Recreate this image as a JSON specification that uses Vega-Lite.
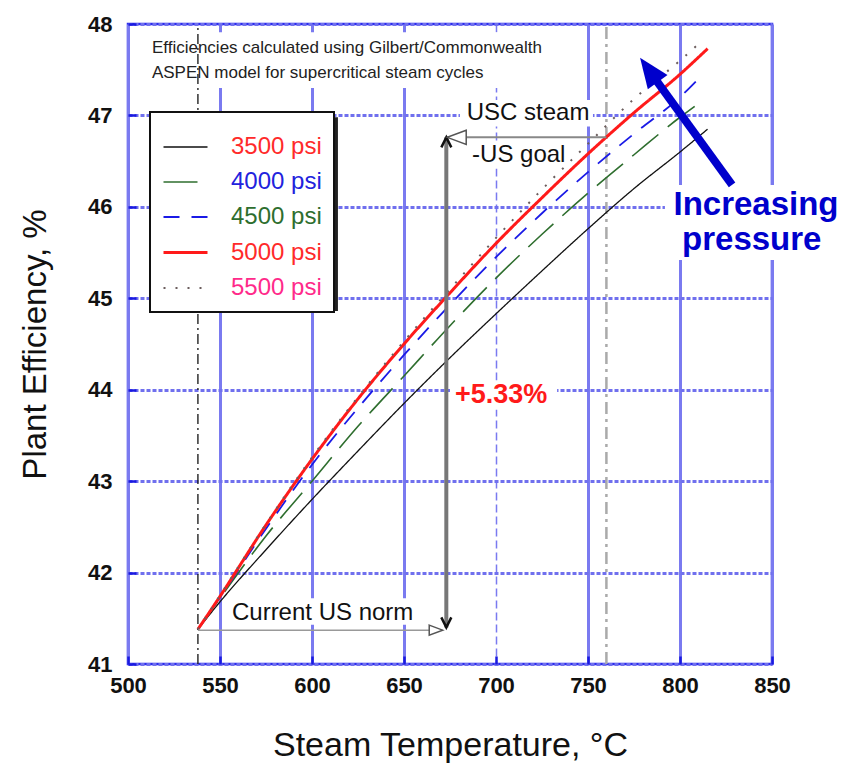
{
  "$schema": "https://vega.github.io/schema/vega-lite/v6.json",
  "width": 644,
  "height": 640,
  "autosize": "none",
  "padding": {"left": 128, "top": 24, "right": 76, "bottom": 113},
  "background": "white",
  "config": {
    "font": "Liberation Sans",
    "view": {"stroke": "#2a2aee", "strokeWidth": 2.5},
    "axis": {"domain": false, "labelFlush": false, "labelOverlap": false},
    "legend": {"strokeWidth": 2}
  },
  "datasets": {
    "curves": [
      {"series": "3500 psi", "t": 538, "eff": 41.38}, {"series": "3500 psi", "t": 550, "eff": 41.68}, {"series": "3500 psi", "t": 575, "eff": 42.25}, {"series": "3500 psi", "t": 600, "eff": 42.8}, {"series": "3500 psi", "t": 625, "eff": 43.33}, {"series": "3500 psi", "t": 650, "eff": 43.85}, {"series": "3500 psi", "t": 675, "eff": 44.35}, {"series": "3500 psi", "t": 700, "eff": 44.83}, {"series": "3500 psi", "t": 725, "eff": 45.3}, {"series": "3500 psi", "t": 750, "eff": 45.76}, {"series": "3500 psi", "t": 775, "eff": 46.2}, {"series": "3500 psi", "t": 800, "eff": 46.6}, {"series": "3500 psi", "t": 815, "eff": 46.85},
      {"series": "4000 psi", "t": 538, "eff": 41.38}, {"series": "4000 psi", "t": 550, "eff": 41.72}, {"series": "4000 psi", "t": 575, "eff": 42.4}, {"series": "4000 psi", "t": 600, "eff": 43.0}, {"series": "4000 psi", "t": 625, "eff": 43.6}, {"series": "4000 psi", "t": 650, "eff": 44.15}, {"series": "4000 psi", "t": 675, "eff": 44.7}, {"series": "4000 psi", "t": 700, "eff": 45.22}, {"series": "4000 psi", "t": 725, "eff": 45.7}, {"series": "4000 psi", "t": 750, "eff": 46.15}, {"series": "4000 psi", "t": 775, "eff": 46.57}, {"series": "4000 psi", "t": 800, "eff": 46.98}, {"series": "4000 psi", "t": 808, "eff": 47.1},
      {"series": "4500 psi", "t": 538, "eff": 41.38}, {"series": "4500 psi", "t": 550, "eff": 41.73}, {"series": "4500 psi", "t": 575, "eff": 42.48}, {"series": "4500 psi", "t": 600, "eff": 43.18}, {"series": "4500 psi", "t": 625, "eff": 43.8}, {"series": "4500 psi", "t": 650, "eff": 44.38}, {"series": "4500 psi", "t": 675, "eff": 44.93}, {"series": "4500 psi", "t": 700, "eff": 45.45}, {"series": "4500 psi", "t": 725, "eff": 45.93}, {"series": "4500 psi", "t": 750, "eff": 46.38}, {"series": "4500 psi", "t": 775, "eff": 46.8}, {"series": "4500 psi", "t": 800, "eff": 47.2}, {"series": "4500 psi", "t": 810, "eff": 47.4},
      {"series": "5000 psi", "t": 538, "eff": 41.38}, {"series": "5000 psi", "t": 550, "eff": 41.74}, {"series": "5000 psi", "t": 575, "eff": 42.52}, {"series": "5000 psi", "t": 600, "eff": 43.24}, {"series": "5000 psi", "t": 625, "eff": 43.9}, {"series": "5000 psi", "t": 650, "eff": 44.5}, {"series": "5000 psi", "t": 675, "eff": 45.06}, {"series": "5000 psi", "t": 700, "eff": 45.6}, {"series": "5000 psi", "t": 725, "eff": 46.1}, {"series": "5000 psi", "t": 750, "eff": 46.58}, {"series": "5000 psi", "t": 775, "eff": 47.03}, {"series": "5000 psi", "t": 800, "eff": 47.45}, {"series": "5000 psi", "t": 815, "eff": 47.73},
      {"series": "5500 psi", "t": 538, "eff": 41.38}, {"series": "5500 psi", "t": 550, "eff": 41.75}, {"series": "5500 psi", "t": 575, "eff": 42.53}, {"series": "5500 psi", "t": 600, "eff": 43.26}, {"series": "5500 psi", "t": 625, "eff": 43.92}, {"series": "5500 psi", "t": 650, "eff": 44.53}, {"series": "5500 psi", "t": 675, "eff": 45.1}, {"series": "5500 psi", "t": 700, "eff": 45.66}, {"series": "5500 psi", "t": 725, "eff": 46.19}, {"series": "5500 psi", "t": 750, "eff": 46.69}, {"series": "5500 psi", "t": 775, "eff": 47.18}, {"series": "5500 psi", "t": 800, "eff": 47.6}, {"series": "5500 psi", "t": 810, "eff": 47.78}
    ],
    "boxes": [
      {"x": 509.2, "x2": 732.1, "y": 47.91, "y2": 47.3},
      {"x": 680.4, "x2": 752.7, "y": 47.17, "y2": 46.88},
      {"x": 683.7, "x2": 740.2, "y": 46.71, "y2": 46.42},
      {"x": 552.7, "x2": 661.4, "y": 41.72, "y2": 41.43},
      {"x": 675.0, "x2": 733.2, "y": 44.1, "y2": 43.78},
      {"x": 791.8, "x2": 891.0, "y": 46.24, "y2": 45.42}
    ],
    "shadow": [
      {"x": 514.7, "x2": 614.1, "y": 46.98, "y2": 44.86}
    ],
    "segments": [
      {"id": "norm538", "x": 538, "x2": 538, "y": 41, "y2": 48},
      {"id": "usc760", "x": 760, "x2": 760, "y": 41, "y2": 48},
      {"id": "goal", "x": 760, "x2": 673, "y": 46.76, "y2": 46.76},
      {"id": "norm", "x": 538, "x2": 671, "y": 41.37, "y2": 41.37},
      {"id": "gain", "x": 673, "x2": 673, "y": 41.4, "y2": 46.76},
      {"id": "press", "x": 828.3, "x2": 786.5, "y": 46.24, "y2": 47.4}
    ],
    "heads": [
      {"id": "up", "x": 673, "y": 46.76},
      {"id": "down", "x": 673, "y": 41.4},
      {"id": "left", "x": 673.5, "y": 46.76},
      {"id": "right", "x": 671, "y": 41.37},
      {"id": "blue", "x": 778.3, "y": 47.63}
    ],
    "notes": [
      {"id": "note", "text": "Efficiencies calculated using Gilbert/Commonwealth", "x": 513, "y": 47.74},
      {"id": "note", "text": "ASPEN model for supercritical steam cycles", "x": 513, "y": 47.46},
      {"id": "usc", "text": "USC steam", "x": 717.4, "y": 47.03},
      {"id": "goal", "text": "-US goal", "x": 687, "y": 46.57},
      {"id": "norm", "text": "Current US norm", "x": 556.5, "y": 41.56},
      {"id": "pct", "text": "+5.33%", "x": 677.7, "y": 43.94},
      {"id": "inc", "text": "Increasing", "x": 841.3, "y": 46.02},
      {"id": "inc", "text": "pressure", "x": 839, "y": 45.64}
    ]
  },
  "layer": [
    {
      "data": {"name": "boxes"},
      "mark": {"type": "rect", "fill": "white"},
      "encoding": {
        "x": {"field": "x", "type": "quantitative", "scale": {"domain": [500, 850], "nice": false},
          "axis": {"values": [500, 550, 600, 650, 700, 750, 800, 850], "title": "Steam Temperature, °C",
            "titleFontSize": 34, "titleFontWeight": "normal", "titleColor": "#111", "titlePadding": 32,
            "labelFontSize": 22, "labelFontWeight": "bold", "labelColor": "#111", "labelPadding": 19,
            "tickColor": "#1a1ae0", "tickWidth": 2.5, "tickSize": -8,
            "gridColor": "#7a7af0",
            "gridWidth": {"condition": {"test": "datum.value === 700", "value": 1.5}, "value": 3},
            "gridDash": {"condition": {"test": "datum.value === 700", "value": [8, 4]}, "value": []}}},
        "x2": {"field": "x2"},
        "y": {"field": "y", "type": "quantitative", "scale": {"domain": [41, 48], "nice": false},
          "axis": {"values": [41, 42, 43, 44, 45, 46, 47, 48], "format": "d", "title": "Plant Efficiency, %",
            "titleFontSize": 33, "titleFontWeight": "normal", "titleColor": "#111", "titlePadding": 35,
            "labelFontSize": 22, "labelFontWeight": "bold", "labelColor": "#111", "labelPadding": 24,
            "tickColor": "#1a1ae0", "tickWidth": 2.5, "tickSize": -8,
            "gridColor": "#7070ee", "gridWidth": 3, "gridDash": [4, 2]}},
        "y2": {"field": "y2"}
      }
    },
    {
      "data": {"name": "shadow"},
      "mark": {"type": "rect", "fill": "#222222"},
      "encoding": {"x": {"field": "x", "type": "quantitative"}, "x2": {"field": "x2"}, "y": {"field": "y", "type": "quantitative"}, "y2": {"field": "y2"}}
    },
    {
      "data": {"name": "segments"},
      "transform": [{"filter": "datum.id === 'norm538'"}],
      "mark": {"type": "rule", "color": "#111", "strokeWidth": 1.3, "strokeDash": [10, 4, 2, 4]},
      "encoding": {"x": {"field": "x", "type": "quantitative"}, "x2": {"field": "x2"}, "y": {"field": "y", "type": "quantitative"}, "y2": {"field": "y2"}}
    },
    {
      "data": {"name": "segments"},
      "transform": [{"filter": "datum.id === 'usc760'"}],
      "mark": {"type": "rule", "color": "#aaaaaa", "strokeWidth": 2.5, "strokeDash": [12, 5, 3, 5]},
      "encoding": {"x": {"field": "x", "type": "quantitative"}, "x2": {"field": "x2"}, "y": {"field": "y", "type": "quantitative"}, "y2": {"field": "y2"}}
    },
    {
      "data": {"name": "curves"},
      "mark": {"type": "line", "interpolate": "monotone"},
      "encoding": {
        "x": {"field": "t", "type": "quantitative"},
        "y": {"field": "eff", "type": "quantitative"},
        "color": {"field": "series", "type": "nominal",
          "scale": {"domain": ["3500 psi", "4000 psi", "4500 psi", "5000 psi", "5500 psi"], "range": ["#111111", "#2e6e2e", "#1a1ae6", "#ff1a1a", "#6b5d5d"]},
          "legend": {"orient": "none", "legendX": 22, "legendY": 88, "title": null, "fillColor": "white", "strokeColor": "#111",
            "padding": 12, "symbolType": "stroke", "symbolSize": 1936, "labelFontSize": 24, "labelOffset": 22, "rowPadding": 0,
            "labelColor": {"expr": "datum.label === '4000 psi' ? '#2222dd' : datum.label === '4500 psi' ? '#2e6e2e' : datum.label === '5500 psi' ? '#ff2a8a' : '#ff2a2a'"}}},
        "strokeDash": {"field": "series", "type": "nominal",
          "scale": {"domain": ["3500 psi", "4000 psi", "4500 psi", "5000 psi", "5500 psi"], "range": [[1, 0], [34, 12], [16, 12], [1, 0], [2, 10]]},
          "legend": {"orient": "none", "legendX": 22, "legendY": 88, "title": null, "fillColor": "white", "strokeColor": "#111",
            "padding": 12, "symbolType": "stroke", "symbolSize": 1936, "labelFontSize": 24, "labelOffset": 22, "rowPadding": 0,
            "labelColor": {"expr": "datum.label === '4000 psi' ? '#2222dd' : datum.label === '4500 psi' ? '#2e6e2e' : datum.label === '5500 psi' ? '#ff2a8a' : '#ff2a2a'"}}},
        "strokeWidth": {"field": "series", "type": "nominal",
          "scale": {"type": "ordinal", "domain": ["3500 psi", "4000 psi", "4500 psi", "5000 psi", "5500 psi"], "range": [1.3, 1.6, 1.8, 3, 2]},
          "legend": {"orient": "none", "legendX": 22, "legendY": 88, "title": null, "fillColor": "white", "strokeColor": "#111",
            "padding": 12, "symbolType": "stroke", "symbolSize": 1936, "labelFontSize": 24, "labelOffset": 22, "rowPadding": 0,
            "labelColor": {"expr": "datum.label === '4000 psi' ? '#2222dd' : datum.label === '4500 psi' ? '#2e6e2e' : datum.label === '5500 psi' ? '#ff2a8a' : '#ff2a2a'"}}}
      }
    },
    {
      "data": {"name": "segments"},
      "transform": [{"filter": "datum.id === 'goal'"}],
      "mark": {"type": "rule", "color": "#888888", "strokeWidth": 2},
      "encoding": {"x": {"field": "x", "type": "quantitative"}, "x2": {"field": "x2"}, "y": {"field": "y", "type": "quantitative"}, "y2": {"field": "y2"}}
    },
    {
      "data": {"name": "segments"},
      "transform": [{"filter": "datum.id === 'norm'"}],
      "mark": {"type": "rule", "color": "#999999", "strokeWidth": 1.5},
      "encoding": {"x": {"field": "x", "type": "quantitative"}, "x2": {"field": "x2"}, "y": {"field": "y", "type": "quantitative"}, "y2": {"field": "y2"}}
    },
    {
      "data": {"name": "segments"},
      "transform": [{"filter": "datum.id === 'gain'"}],
      "mark": {"type": "rule", "color": "#777777", "strokeWidth": 4},
      "encoding": {"x": {"field": "x", "type": "quantitative"}, "x2": {"field": "x2"}, "y": {"field": "y", "type": "quantitative"}, "y2": {"field": "y2"}}
    },
    {
      "data": {"name": "segments"},
      "transform": [{"filter": "datum.id === 'press'"}],
      "mark": {"type": "rule", "color": "#0000cc", "strokeWidth": 8},
      "encoding": {"x": {"field": "x", "type": "quantitative"}, "x2": {"field": "x2"}, "y": {"field": "y", "type": "quantitative"}, "y2": {"field": "y2"}}
    },
    {
      "data": {"name": "heads"},
      "transform": [{"filter": "datum.id === 'up'"}],
      "mark": {"type": "point", "shape": "M -0.5 1 L 0 0 L 0.5 1", "size": 400, "stroke": "#111", "strokeWidth": 2.5, "filled": false, "opacity": 1},
      "encoding": {"x": {"field": "x", "type": "quantitative"}, "y": {"field": "y", "type": "quantitative"}}
    },
    {
      "data": {"name": "heads"},
      "transform": [{"filter": "datum.id === 'down'"}],
      "mark": {"type": "point", "shape": "M -0.5 -1 L 0 0 L 0.5 -1", "size": 400, "stroke": "#111", "strokeWidth": 2.5, "filled": false, "opacity": 1},
      "encoding": {"x": {"field": "x", "type": "quantitative"}, "y": {"field": "y", "type": "quantitative"}}
    },
    {
      "data": {"name": "heads"},
      "transform": [{"filter": "datum.id === 'left'"}],
      "mark": {"type": "point", "shape": "M 1.2 -0.45 L 0 0 L 1.2 0.45 Z", "size": 1000, "stroke": "#555", "strokeWidth": 1.5, "fill": "white", "filled": true, "opacity": 1},
      "encoding": {"x": {"field": "x", "type": "quantitative"}, "y": {"field": "y", "type": "quantitative"}}
    },
    {
      "data": {"name": "heads"},
      "transform": [{"filter": "datum.id === 'right'"}],
      "mark": {"type": "point", "shape": "M -1.2 -0.45 L 0 0 L -1.2 0.45 Z", "size": 500, "stroke": "#555", "strokeWidth": 1.5, "fill": "white", "filled": true, "opacity": 1},
      "encoding": {"x": {"field": "x", "type": "quantitative"}, "y": {"field": "y", "type": "quantitative"}}
    },
    {
      "data": {"name": "heads"},
      "transform": [{"filter": "datum.id === 'blue'"}],
      "mark": {"type": "point", "shape": "M 0 0 L -0.65 1.6 L 0.65 1.6 Z", "size": 1400, "angle": 324, "fill": "#0000cc", "filled": true, "strokeWidth": 0, "opacity": 1},
      "encoding": {"x": {"field": "x", "type": "quantitative"}, "y": {"field": "y", "type": "quantitative"}}
    },
    {
      "data": {"name": "notes"},
      "transform": [{"filter": "datum.id === 'note'"}],
      "mark": {"type": "text", "align": "left", "baseline": "middle", "fontSize": 17, "color": "#222"},
      "encoding": {"x": {"field": "x", "type": "quantitative"}, "y": {"field": "y", "type": "quantitative"}, "text": {"field": "text"}}
    },
    {
      "data": {"name": "notes"},
      "transform": [{"filter": "datum.id === 'usc'"}],
      "mark": {"type": "text", "align": "center", "baseline": "middle", "fontSize": 24, "color": "#111"},
      "encoding": {"x": {"field": "x", "type": "quantitative"}, "y": {"field": "y", "type": "quantitative"}, "text": {"field": "text"}}
    },
    {
      "data": {"name": "notes"},
      "transform": [{"filter": "datum.id === 'goal' || datum.id === 'norm'"}],
      "mark": {"type": "text", "align": "left", "baseline": "middle", "fontSize": 24, "color": "#111"},
      "encoding": {"x": {"field": "x", "type": "quantitative"}, "y": {"field": "y", "type": "quantitative"}, "text": {"field": "text"}}
    },
    {
      "data": {"name": "notes"},
      "transform": [{"filter": "datum.id === 'pct'"}],
      "mark": {"type": "text", "align": "left", "baseline": "middle", "fontSize": 27, "fontWeight": "bold", "color": "#ff1a1a"},
      "encoding": {"x": {"field": "x", "type": "quantitative"}, "y": {"field": "y", "type": "quantitative"}, "text": {"field": "text"}}
    },
    {
      "data": {"name": "notes"},
      "transform": [{"filter": "datum.id === 'inc'"}],
      "mark": {"type": "text", "align": "center", "baseline": "middle", "fontSize": 33, "fontWeight": "bold", "color": "#0000cc"},
      "encoding": {"x": {"field": "x", "type": "quantitative"}, "y": {"field": "y", "type": "quantitative"}, "text": {"field": "text"}}
    }
  ]
}
